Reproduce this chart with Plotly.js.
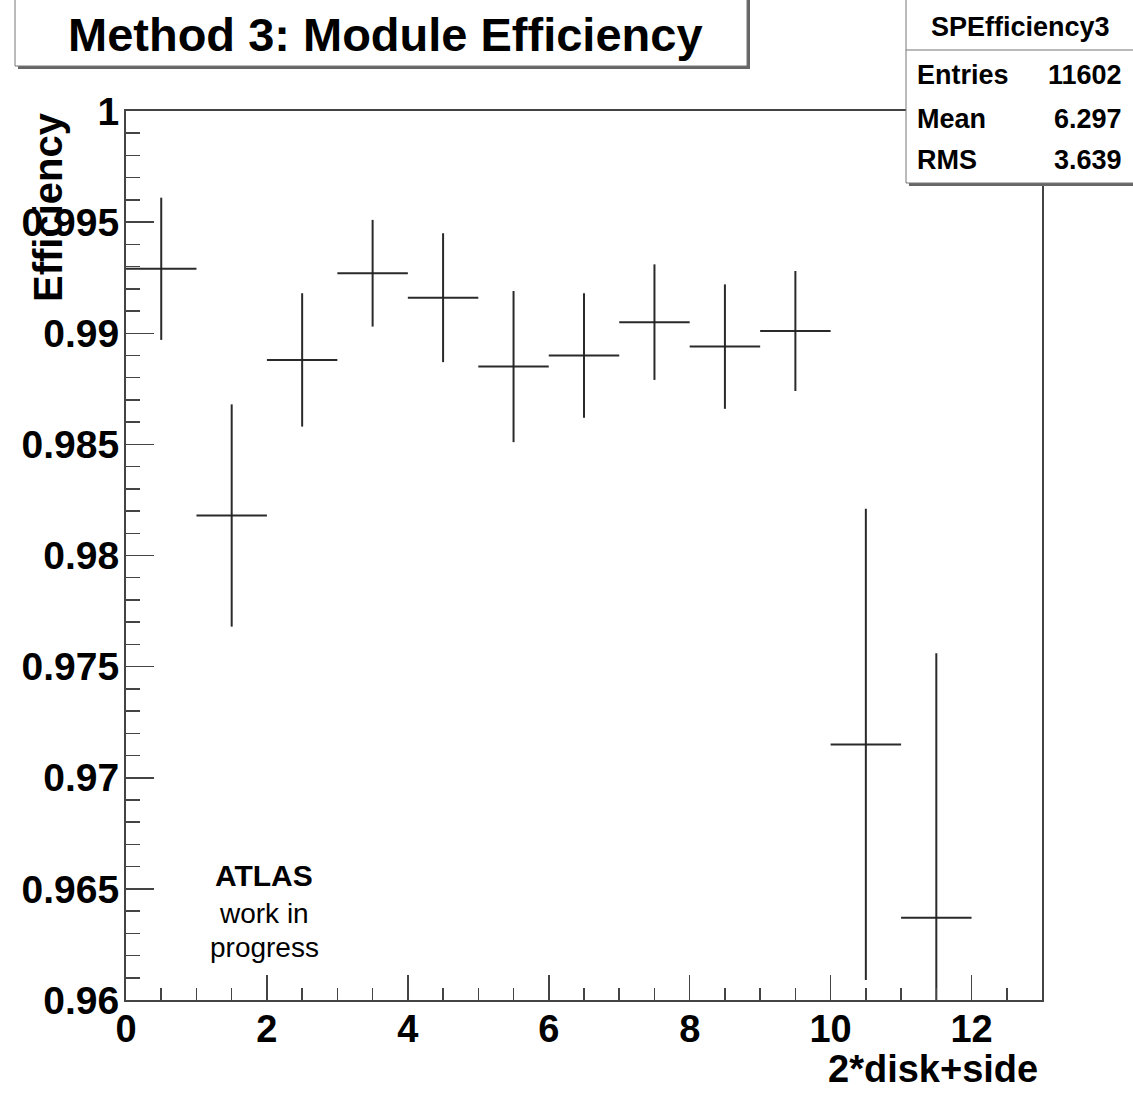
<!DOCTYPE html>
<html>
<head>
<meta charset="utf-8">
<script src="https://cdn.plot.ly/plotly-3.0.1.min.js"></script>
<style>
html,body{margin:0;padding:0;background:#fff;}
#chart{width:1133px;height:1094px;}
</style>
</head>
<body>
<div id="chart"></div>
<script>
// ---- data ----
var binCenters = [0.5, 1.5, 2.5, 3.5, 4.5, 5.5, 6.5, 7.5, 8.5, 9.5, 10.5, 11.5];
var efficiency = [0.9929, 0.9818, 0.9888, 0.9927, 0.9916, 0.9885, 0.9890, 0.9905, 0.9894, 0.9901, 0.9715, 0.9637];
var effError   = [0.0032, 0.0050, 0.0030, 0.0024, 0.0029, 0.0034, 0.0028, 0.0026, 0.0028, 0.0027, 0.0106, 0.0119];
var binHalfWidth = 0.5;

var xTickVals = [0, 2, 4, 6, 8, 10, 12];
var xTickText = ["0", "2", "4", "6", "8", "10", "12"];
var yTickVals = [0.96, 0.965, 0.97, 0.975, 0.98, 0.985, 0.99, 0.995, 1.0];
var yTickText = ["0.96", "0.965", "0.97", "0.975", "0.98", "0.985", "0.99", "0.995", "1"];

var titleText = "Method 3: Module Efficiency";
var xTitle = "2*disk+side";
var yTitle = "Efficiency";
var statsName = "SPEfficiency3";
var statsLabels = ["Entries", "Mean", "RMS"];
var statsValues = ["11602", "6.297", "3.639"];
var atlasLines = ["ATLAS", "work in", "progress"];

// ---- layout helpers (pixel -> paper) ----
var W = 1133, H = 1094;
var M = {l: 126, r: 91, t: 111, b: 94};
var PW = W - M.l - M.r, PH = H - M.t - M.b;
function px(x) { return (x - M.l) / PW; }
function py(y) { return (H - M.b - y) / PH; }

var FONT = "Liberation Sans, Arial, Helvetica, sans-serif";
var lineCol = "#2a2a2a";

var trace = {
  type: "scatter",
  mode: "markers",
  x: binCenters,
  y: efficiency,
  marker: {size: 2, color: "#222"},
  error_y: {type: "data", array: effError, symmetric: true, width: 0, thickness: 2, color: lineCol},
  error_x: {type: "constant", value: binHalfWidth, width: 0, thickness: 2, color: lineCol},
  hoverinfo: "skip",
  showlegend: false
};

var shapes = [];
// title box (shadow + box)
shapes.push({type: "rect", xref: "paper", yref: "paper", x0: px(18), x1: px(750), y0: py(69), y1: py(-10), fillcolor: "#666", line: {width: 0}, layer: "above"});
shapes.push({type: "rect", xref: "paper", yref: "paper", x0: px(15), x1: px(747), y0: py(66), y1: py(-10), fillcolor: "#fff", line: {width: 1, color: "#777"}, layer: "above"});
// stats box
shapes.push({type: "rect", xref: "paper", yref: "paper", x0: px(909), x1: px(1150), y0: py(186), y1: py(-10), fillcolor: "#666", line: {width: 0}, layer: "above"});
shapes.push({type: "rect", xref: "paper", yref: "paper", x0: px(906), x1: px(1145), y0: py(183), y1: py(-10), fillcolor: "#fff", line: {width: 1, color: "#777"}, layer: "above"});
shapes.push({type: "line", xref: "paper", yref: "paper", x0: px(906), x1: px(1140), y0: py(50), y1: py(50), line: {width: 1.2, color: "#777"}, layer: "above"});

var annotations = [];
annotations.push({xref: "paper", yref: "paper", x: px(385), y: py(35), xanchor: "center", yanchor: "middle", showarrow: false,
  text: titleText, font: {family: FONT, size: 47, weight: "bold", color: "#000"}});
annotations.push({xref: "paper", yref: "paper", x: px(1020), y: py(27), xanchor: "center", yanchor: "middle", showarrow: false,
  text: statsName, font: {family: FONT, size: 27, weight: "bold", color: "#000"}});
var rowY = [75, 119, 160];
for (var i = 0; i < statsLabels.length; i++) {
  annotations.push({xref: "paper", yref: "paper", x: px(915), y: py(rowY[i]), xanchor: "left", yanchor: "middle", showarrow: false,
    text: statsLabels[i], font: {family: FONT, size: 27, weight: "bold", color: "#000"}});
  annotations.push({xref: "paper", yref: "paper", x: px(1124), y: py(rowY[i]), xanchor: "right", yanchor: "middle", showarrow: false,
    text: statsValues[i], font: {family: FONT, size: 27, weight: "bold", color: "#000"}});
}
// axis titles
annotations.push({xref: "paper", yref: "paper", x: px(1040), y: py(1069), xanchor: "right", yanchor: "middle", showarrow: false,
  text: xTitle, font: {family: FONT, size: 38, weight: "bold", color: "#000"}});
annotations.push({xref: "paper", yref: "paper", x: px(48), y: py(207), xanchor: "center", yanchor: "middle", showarrow: false, textangle: -90,
  text: yTitle, font: {family: FONT, size: 40, weight: "bold", color: "#000"}});
// ATLAS label
var atlasY = [875, 913, 947];
for (var j = 0; j < atlasLines.length; j++) {
  annotations.push({xref: "paper", yref: "paper", x: px(264), y: py(atlasY[j]), xanchor: "center", yanchor: "middle", showarrow: false,
    text: atlasLines[j], font: {family: FONT, size: j === 0 ? 30 : 28, weight: j === 0 ? "bold" : "normal", color: "#000"}});
}

var layout = {
  width: W, height: H,
  margin: M,
  paper_bgcolor: "#fff", plot_bgcolor: "#fff",
  showlegend: false,
  xaxis: {
    range: [0, 13], autorange: false,
    tickmode: "array", tickvals: xTickVals, ticktext: xTickText,
    ticks: "inside", ticklen: 25, tickwidth: 1.5, tickcolor: "#444",
    minor: {tickmode: "linear", tick0: 0, dtick: 0.5, ticks: "inside", ticklen: 12, tickwidth: 1.5, tickcolor: "#444", showgrid: false},
    showline: true, linecolor: "#444", linewidth: 2, mirror: true,
    showgrid: false, zeroline: false,
    tickfont: {family: FONT, size: 38, weight: "bold", color: "#000"},
    ticklabelstandoff: -6
  },
  yaxis: {
    range: [0.96, 1.0], autorange: false,
    tickmode: "array", tickvals: yTickVals, ticktext: yTickText,
    ticks: "inside", ticklen: 28, tickwidth: 1.5, tickcolor: "#444",
    minor: {tickmode: "linear", tick0: 0.96, dtick: 0.001, ticks: "inside", ticklen: 14, tickwidth: 1.5, tickcolor: "#444", showgrid: false},
    showline: true, linecolor: "#444", linewidth: 2, mirror: true,
    showgrid: false, zeroline: false,
    tickfont: {family: FONT, size: 39, weight: "bold", color: "#000"},
    ticklabelstandoff: -3
  },
  shapes: shapes,
  annotations: annotations
};

Plotly.newPlot("chart", [trace], layout, {staticPlot: true, displayModeBar: false});
</script>
</body>
</html>
